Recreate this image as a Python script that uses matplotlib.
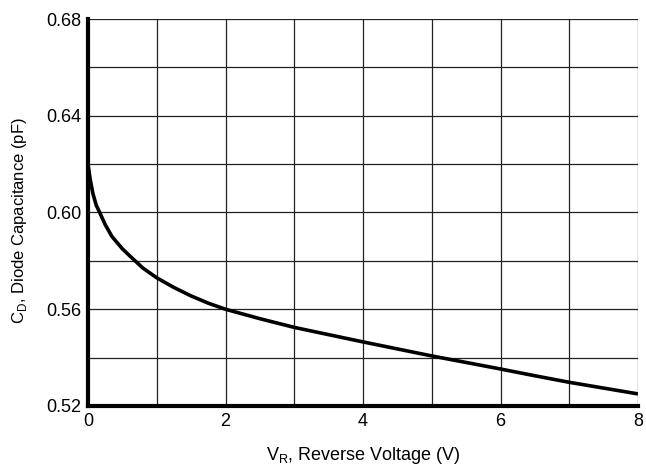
import matplotlib
matplotlib.use("Agg")
from matplotlib import pyplot as plt
from matplotlib.ticker import MultipleLocator

plt.rcParams['font.family'] = ['Liberation Sans', 'DejaVu Sans']
plt.rcParams['mathtext.fontset'] = 'custom'
plt.rcParams['mathtext.rm'] = 'Liberation Sans'

# values
vr = [0, 0.03, 0.07, 0.12, 0.17, 0.25, 0.35, 0.5, 0.61, 0.8, 1.0, 1.25, 1.5, 1.75,
      2.0, 2.5, 3.0, 3.5, 4.0, 4.5, 5.0, 5.5, 6.0, 6.5, 7.0, 7.5, 8.0]
cd = [0.620, 0.614, 0.608, 0.603, 0.600, 0.595, 0.590, 0.585, 0.582, 0.577, 0.573,
      0.569, 0.5655, 0.5625, 0.560, 0.5561, 0.5525, 0.5495, 0.5465, 0.5436, 0.5407,
      0.538, 0.5353, 0.5325, 0.5298, 0.5274, 0.525]

fig = plt.figure(figsize=(6.46, 4.68), dpi=100)
ax = fig.add_axes([88 / 646, 62 / 468, 550 / 646, 387 / 468])

ax.plot(vr, cd, color="black", lw=2.6, solid_capstyle="butt")

ax.set_xlim(0, 8)
ax.set_ylim(0.52, 0.68)
ax.xaxis.set_major_locator(MultipleLocator(2))
ax.xaxis.set_minor_locator(MultipleLocator(1))
ax.yaxis.set_major_locator(MultipleLocator(0.04))
ax.yaxis.set_minor_locator(MultipleLocator(0.02))
ax.yaxis.set_major_formatter(plt.FormatStrFormatter("%.2f"))
ax.grid(which="both", color="#222222", lw=0.9)
ax.set_axisbelow(True)
ax.tick_params(which="both", length=0, labelsize=13, pad=5)

for s in ["top", "right"]:
    ax.spines[s].set_visible(False)
for s in ["left", "bottom"]:
    ax.spines[s].set_linewidth(3)

ax.set_xlabel(r"V$_\mathregular{R}$, Reverse Voltage (V)", fontsize=13, labelpad=11)
ax.set_ylabel(r"C$_\mathregular{D}$, Diode Capacitance (pF)", fontsize=12)
ax.yaxis.set_label_coords(-0.108, 0.48)

fig.savefig("out.png", dpi=100)
